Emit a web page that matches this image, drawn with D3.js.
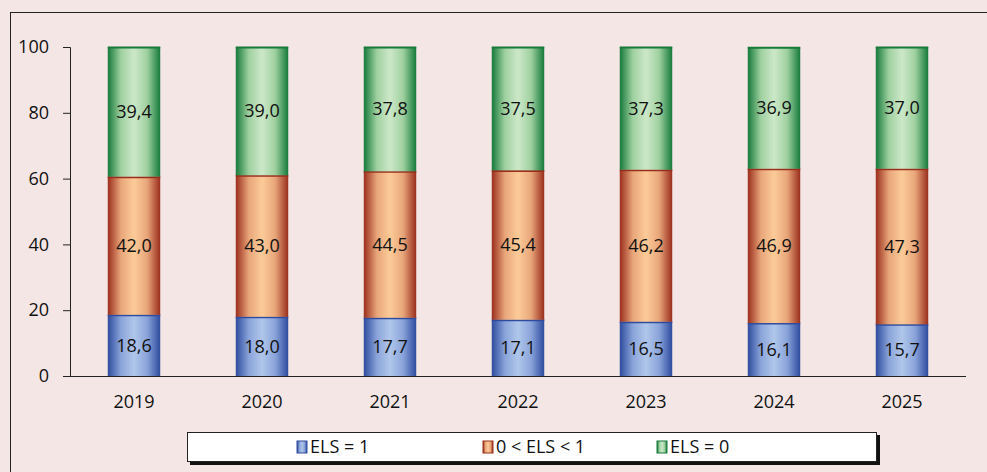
<!DOCTYPE html>
<html><head><meta charset="utf-8">
<script src="https://cdn.jsdelivr.net/npm/d3@7"></script>
<style>body{margin:0;background:#F5E6E6;}svg{display:block;}</style>
</head><body>
<svg id="chart" width="987" height="472"></svg>
<script>
const years = ["2019","2020","2021","2022","2023","2024","2025"];
const seriesNames = ["ELS = 1","0 < ELS < 1","ELS = 0"];
const els1 = [18.6,18.0,17.7,17.1,16.5,16.1,15.7];
const elsMid = [42.0,43.0,44.5,45.4,46.2,46.9,47.3];
const els0 = [39.4,39.0,37.8,37.5,37.3,36.9,37.0];
const yTicks = [0,20,40,60,80,100];

const svg = d3.select("#chart");
const font = "'Open Sans', sans-serif";
const bg = "#F5E6E6";
svg.append("rect").attr("width",987).attr("height",472).attr("fill",bg);
svg.append("rect").attr("x",10.5).attr("y",12.5).attr("width",990).attr("height",480)
  .attr("fill","none").attr("stroke","#222").attr("stroke-width",1);

const defs = svg.append("defs");
const palettes = [
  {edge:"#2E4B9E", soft:"#8AA4DA", mid:"#B0C6EA", stroke:"#2E4B9E"},
  {edge:"#9A2E1C", soft:"#E8A67A", mid:"#FCCB98", stroke:"#9A2E1C"},
  {edge:"#157A3A", soft:"#9FD0A0", mid:"#CDE8C8", stroke:"#157A3A"}
];
palettes.forEach((p,i)=>{
  const g = defs.append("linearGradient").attr("id","g"+i).attr("x1","0%").attr("x2","100%").attr("y1","0%").attr("y2","0%");
  g.append("stop").attr("offset","0%").attr("stop-color",p.edge);
  g.append("stop").attr("offset","25%").attr("stop-color",p.soft);
  g.append("stop").attr("offset","50%").attr("stop-color",p.mid);
  g.append("stop").attr("offset","75%").attr("stop-color",p.soft);
  g.append("stop").attr("offset","100%").attr("stop-color",p.edge);
});

const x = d3.scaleBand().domain(years).range([70,966]).paddingInner(0.59).paddingOuter(0.295);
const y = d3.scaleLinear().domain([0,100]).range([376,47]);

// y axis
const yAxis = svg.append("g").attr("transform","translate(70,0)")
  .call(d3.axisLeft(y).tickValues(yTicks).tickSize(7).tickPadding(14));
yAxis.select(".domain").attr("stroke","#222");
yAxis.selectAll(".tick line").attr("stroke","#222");
yAxis.selectAll("text").attr("font-family",font).attr("font-size",18).attr("fill","#111");

// x axis
const xAxis = svg.append("g").attr("transform","translate(0,376)")
  .call(d3.axisBottom(x).tickSize(0).tickPadding(19));
xAxis.select(".domain").attr("stroke","#222").attr("d","M63,0.5H966");
xAxis.selectAll("text").attr("font-family",font).attr("font-size",18).attr("fill","#111");

const data = years.map((yr,i)=>({year:yr, s0:els1[i], s1:elsMid[i], s2:els0[i]}));
const stack = d3.stack().keys(["s0","s1","s2"])(data);

stack.forEach((layer,li)=>{
  const g = svg.append("g");
  g.selectAll("rect").data(layer).join("rect")
    .attr("x",d=>x(d.data.year)).attr("width",x.bandwidth())
    .attr("y",d=>y(d[1])).attr("height",d=>y(d[0])-y(d[1]))
    .attr("fill","url(#g"+li+")");
  g.selectAll("line").data(layer).join("line")
    .attr("x1",d=>x(d.data.year)).attr("x2",d=>x(d.data.year)+x.bandwidth())
    .attr("y1",d=>y(d[1])+0.5).attr("y2",d=>y(d[1])+0.5)
    .attr("stroke",palettes[li].stroke).attr("stroke-width",2);
  g.selectAll("text").data(layer).join("text")
    .attr("x",d=>x(d.data.year)+x.bandwidth()/2)
    .attr("y",d=>(y(d[0])+y(d[1]))/2)
    .attr("dy","0.35em").attr("text-anchor","middle")
    .attr("font-family",font).attr("font-size",18).attr("fill","#111")
    .text(d=>(d[1]-d[0]).toFixed(1).replace(".",","));
});

// legend
const lg = svg.append("g");
lg.append("rect").attr("x",190).attr("y",435).attr("width",690).attr("height",30).attr("fill","#111");
lg.append("rect").attr("x",187.5).attr("y",432.5).attr("width",689).attr("height",29).attr("fill","#fff").attr("stroke","#222");
const legX = [297,483,657];
seriesNames.forEach((n,i)=>{
  lg.append("rect").attr("x",legX[i]).attr("y",441).attr("width",10).attr("height",12)
    .attr("fill","url(#g"+i+")").attr("stroke",palettes[i].stroke).attr("stroke-width",1);
  lg.append("text").attr("x",legX[i]+13).attr("y",447).attr("dy","0.35em")
    .attr("font-family",font).attr("font-size",18).attr("fill","#111").text(n);
});
</script>
</body></html>
